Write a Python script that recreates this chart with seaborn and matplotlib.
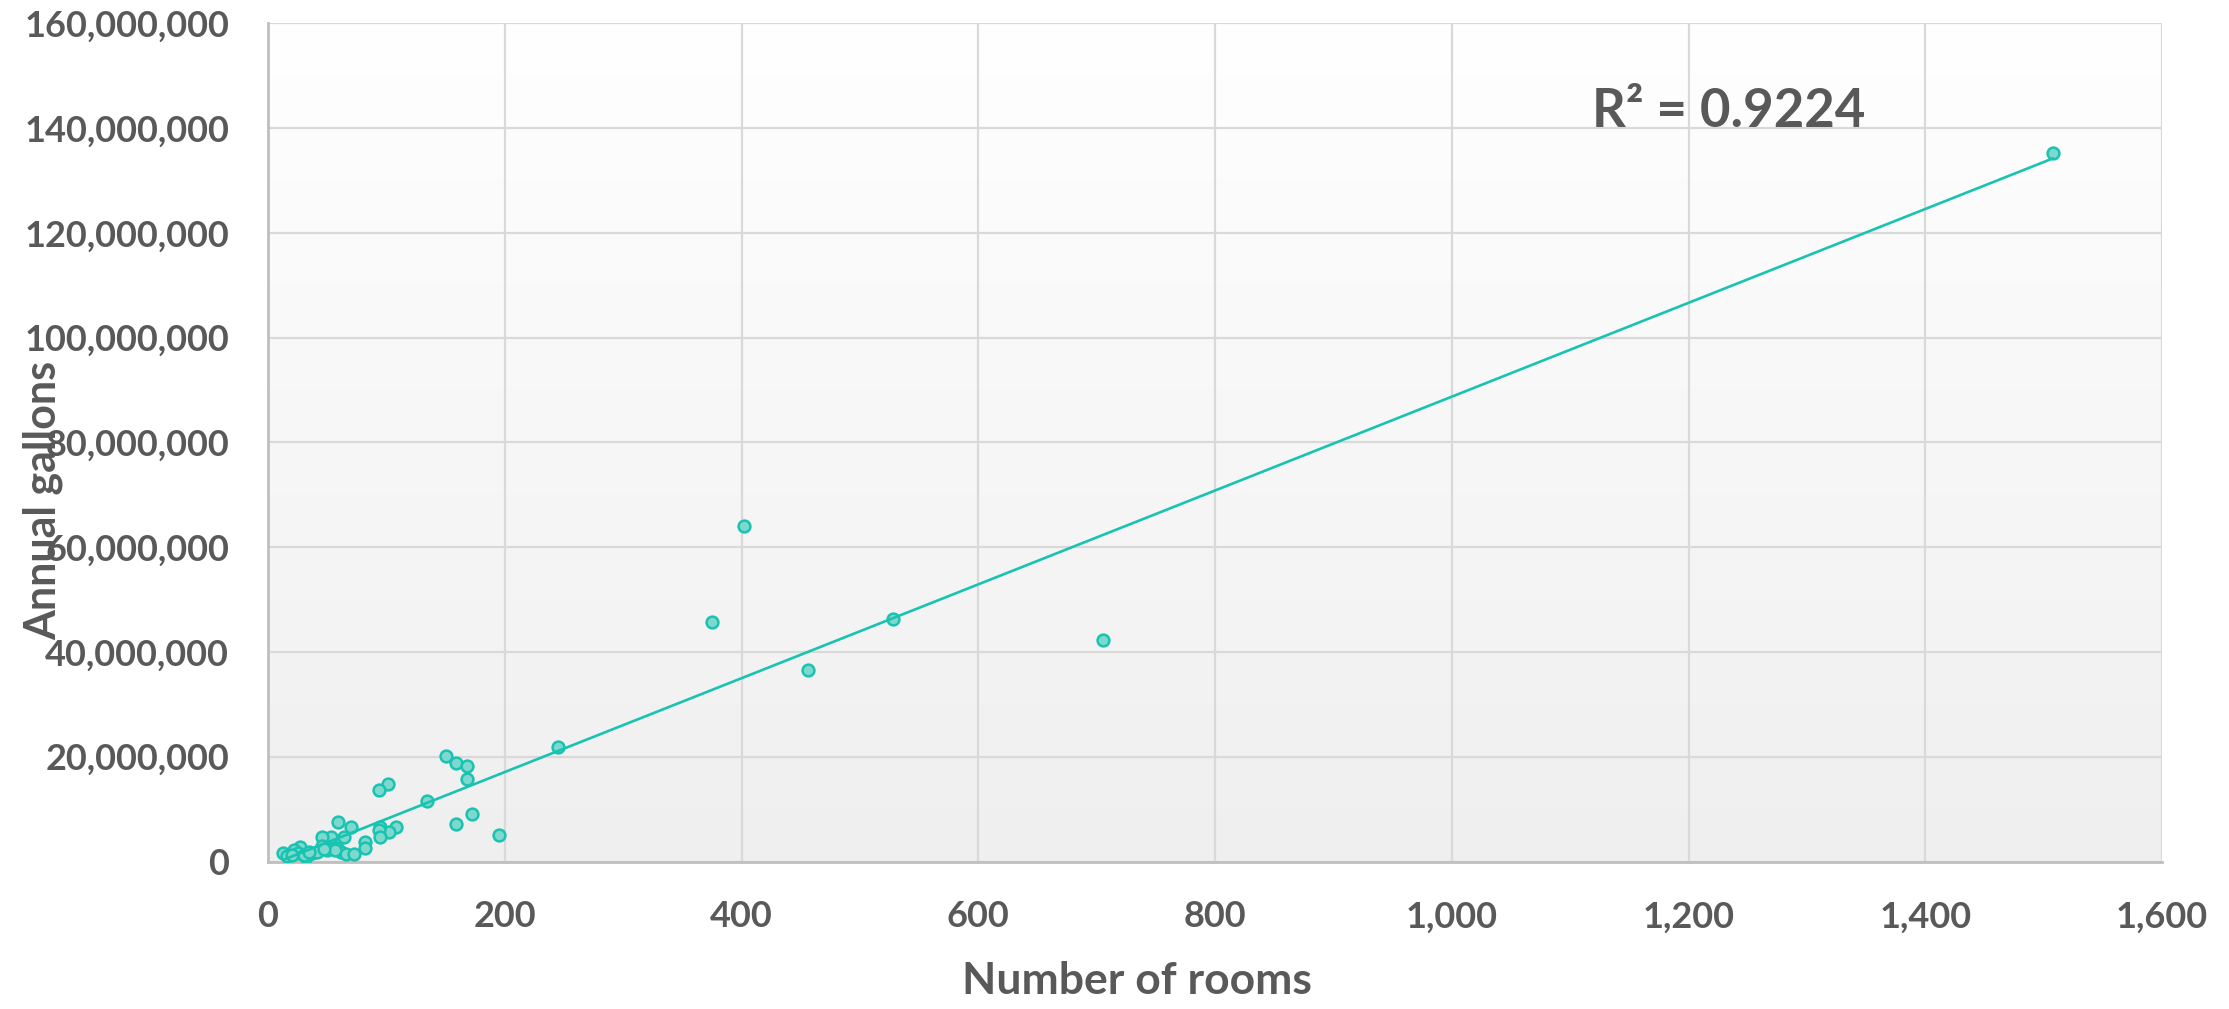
import numpy as np
import pandas as pd
import matplotlib
matplotlib.use("Agg")
import matplotlib.pyplot as plt
import seaborn as sns
from matplotlib.ticker import FuncFormatter, MultipleLocator
from matplotlib.colors import LinearSegmentedColormap

rooms = [1508, 402, 375, 528, 456, 705, 245, 150, 159, 168, 168, 101, 94, 134,
         172, 159, 195, 59, 70, 108, 95, 102, 94, 95, 82, 82, 64, 53, 46, 46,
         50, 58, 62, 66, 73, 27, 22, 13, 16, 25, 32, 37, 41, 57, 47, 20, 30, 35]
gallons_m = [135.2, 64.0, 45.8, 46.3, 36.6, 42.3, 21.8, 20.2, 18.8, 18.2, 15.7,
             14.7, 13.6, 11.6, 9.0, 7.1, 5.1, 7.6, 6.6, 6.6, 6.5, 5.6, 6.0, 4.6,
             3.8, 2.5, 4.6, 4.6, 4.6, 3.0, 2.2, 2.5, 1.9, 1.5, 1.5, 2.8, 2.2,
             1.6, 1.0, 1.6, 0.9, 1.6, 1.9, 2.2, 2.4, 1.2, 1.3, 1.8]
r2_label = "R² = 0.9224"
x_label = "Number of rooms"
y_label = "Annual gallons"

df = pd.DataFrame({"rooms": rooms, "gallons": np.array(gallons_m) * 1e6})

sns.set_theme(style="white")
plt.rcParams["font.family"] = ["Lato", "DejaVu Sans"]

TXT = "#595959"
TEAL = "#19c3b1"
FILL = "#7dd8ce"

fig = plt.figure(figsize=(22.29, 10.09), dpi=100)
ax = fig.add_axes([268/2229, 1-861.5/1009, (2162-268)/2229, (861.5-23.3)/1009])

# background gradient: white at top, light grey at bottom
grad = np.linspace(0, 1, 256).reshape(-1, 1)
cmap = LinearSegmentedColormap.from_list("bg", ["#ffffff", "#efefef"])
ax.imshow(grad, aspect="auto", cmap=cmap, extent=[0, 1, 0, 1], origin="upper",
          transform=ax.transAxes, zorder=0)

sns.regplot(data=df, x="rooms", y="gallons", ax=ax, ci=None, truncate=True,
            scatter_kws=dict(s=72, color=FILL, edgecolors=TEAL, linewidths=1.8, alpha=1, zorder=3),
            line_kws=dict(color=TEAL, lw=1.9, zorder=4))

ax.set_xlim(0, 1600)
ax.set_ylim(0, 160e6)
ax.xaxis.set_major_locator(MultipleLocator(200))
ax.yaxis.set_major_locator(MultipleLocator(20e6))
ax.xaxis.set_major_formatter(FuncFormatter(lambda v, p: f"{int(v):,}"))
ax.yaxis.set_major_formatter(FuncFormatter(lambda v, p: f"{int(v):,}"))
ax.grid(True, color="#d9d9d9", lw=1.6, zorder=1)
ax.set_axisbelow(True)
for s in ["top", "right"]:
    ax.spines[s].set_visible(False)
for s in ["left", "bottom"]:
    ax.spines[s].set_color("#bfbfbf")
    ax.spines[s].set_linewidth(2)
ax.tick_params(axis="both", length=0, labelsize=26, labelcolor=TXT)
ax.tick_params(axis="y", pad=28)
ax.tick_params(axis="x", pad=28)
for lab in ax.get_xticklabels() + ax.get_yticklabels():
    lab.set_fontweight("bold")
ax.set_xlabel("")
ax.set_ylabel("")

fig.text(1137/2229, 1-981/1009, x_label, ha="center", va="center",
         fontsize=32, fontweight="bold", color=TXT)
fig.text(43/2229, 1-500/1009, y_label, ha="center", va="center", rotation=90,
         fontsize=31, fontweight="bold", color=TXT)
fig.text(1592/2229, 1-127/1009, r2_label, ha="left", va="baseline",
         fontsize=38, fontweight="bold", color=TXT)

fig.savefig("out.png", dpi=100)
